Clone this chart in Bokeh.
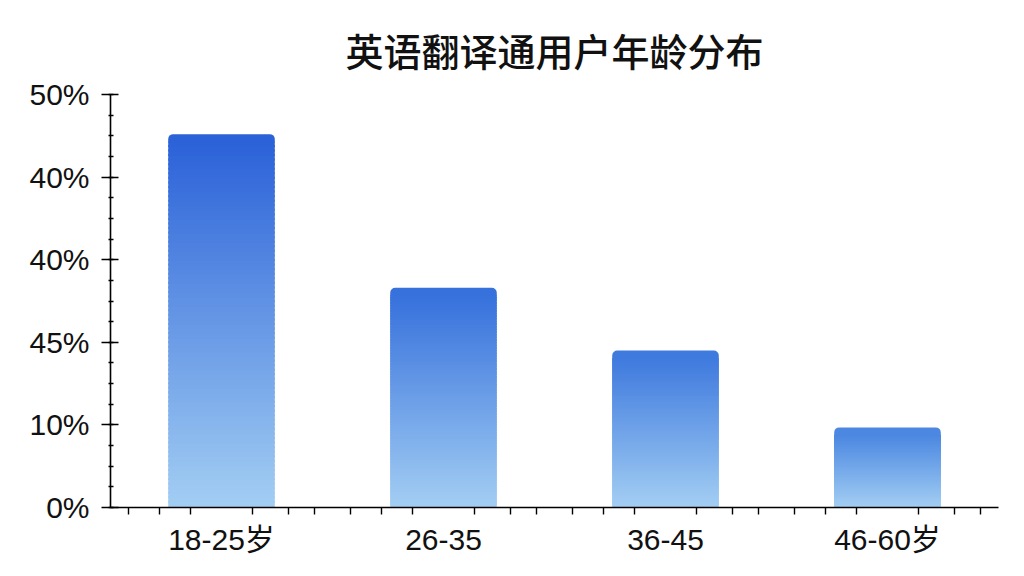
from bokeh.plotting import figure
from bokeh.models import Range1d, FixedTicker
from bokeh.embed import file_html
from bokeh.resources import INLINE

title_text = "英语翻译通用户年龄分布"
categories = ["18-25岁", "26-35", "36-45", "46-60岁"]
values = [45.2, 26.6, 19.0, 9.7]
y_ticks = [0, 10, 20, 30, 40, 50]
y_tick_labels = ["0%", "10%", "45%", "40%", "40%", "50%"]

# styles
top_colors = [(43, 98, 216), (55, 113, 220), (63, 122, 222), (76, 136, 225)]
bottom_color = (163, 206, 243)
bar_width = 0.48
n_slices = 80
cap = 1.0

LATIN = "Liberation Sans, Noto Sans CJK SC"
CJK = "Noto Sans CJK SC Medium, Noto Sans CJK SC"

p = figure(width=1016, height=568, output_backend="svg", toolbar_location=None,
           x_range=Range1d(0, len(categories)), y_range=Range1d(0, 50),
           min_border_left=110, min_border_right=18, min_border_bottom=61,
           min_border_top=94)
p.frame_width = 888
p.frame_height = 413

p.title.text = title_text
p.title.text_font = CJK
p.title.text_font_size = "38px"
p.title.text_font_style = "normal"
p.title.text_color = "#111111"
p.title.align = "center"
p.title.standoff = 36


def hexc(c):
    return "#%02x%02x%02x" % tuple(int(round(v)) for v in c)


for i, v in enumerate(values):
    cx = i + 0.5
    left = cx - bar_width / 2
    right = cx + bar_width / 2
    body = v - cap
    ls, rs, bs, ts, cs = [], [], [], [], []
    for k in range(n_slices):
        b = body * k / n_slices
        t = body * (k + 1) / n_slices
        f = (k + 0.5) / n_slices
        col = [bottom_color[j] + (top_colors[i][j] - bottom_color[j]) * f for j in range(3)]
        ls.append(left); rs.append(right); bs.append(b)
        ts.append(min(t + 0.25, body + 0.1)); cs.append(hexc(col))
    p.quad(left=ls, right=rs, bottom=bs, top=ts, fill_color=cs, line_color=None)
    p.quad(left=[left], right=[right], bottom=[body], top=[v], fill_color=hexc(top_colors[i]),
           line_color=None, border_radius=(5, 5, 0, 0))

p.xgrid.visible = False
p.ygrid.visible = False
p.outline_line_color = None
p.background_fill_color = "white"
p.border_fill_color = "white"

# y axis
p.yaxis.ticker = FixedTicker(ticks=y_ticks, minor_ticks=[2.5 * k for k in range(21)])
p.yaxis.major_label_overrides = {t: l for t, l in zip(y_ticks, y_tick_labels)}
p.yaxis.major_label_text_font = LATIN
p.yaxis.major_label_text_font_size = "30px"
p.yaxis.major_label_text_color = "#111111"
p.yaxis.axis_line_color = "black"
p.yaxis.axis_line_width = 1.6
p.yaxis.major_tick_line_color = "black"
p.yaxis.major_tick_line_width = 1.6
p.yaxis.major_tick_in = 8
p.yaxis.major_tick_out = 9
p.yaxis.minor_tick_line_color = "black"
p.yaxis.minor_tick_line_width = 1.3
p.yaxis.minor_tick_in = 3
p.yaxis.minor_tick_out = 2
p.yaxis.major_label_standoff = 12

# x axis
centers = [i + 0.5 for i in range(len(categories))]
x_minor = []
for c in centers:
    x_minor += [c - 0.42, c - 0.28, c - 0.14, c + 0.14, c + 0.3, c + 0.42]
p.xaxis.ticker = FixedTicker(ticks=centers, minor_ticks=x_minor)
p.xaxis.major_label_overrides = {c: l for c, l in zip(centers, categories)}
p.xaxis.major_label_text_font = LATIN
p.xaxis.major_label_text_font_size = "30px"
p.xaxis.major_label_text_color = "#111111"
p.xaxis.axis_line_color = "black"
p.xaxis.axis_line_width = 1.6
p.xaxis.major_tick_line_color = None
p.xaxis.major_tick_in = 0
p.xaxis.major_tick_out = 8
p.xaxis.minor_tick_line_color = "black"
p.xaxis.minor_tick_line_width = 1.4
p.xaxis.minor_tick_in = 0
p.xaxis.minor_tick_out = 7
p.xaxis.major_label_standoff = 7

open("out.html", "w").write(file_html(p, INLINE))
